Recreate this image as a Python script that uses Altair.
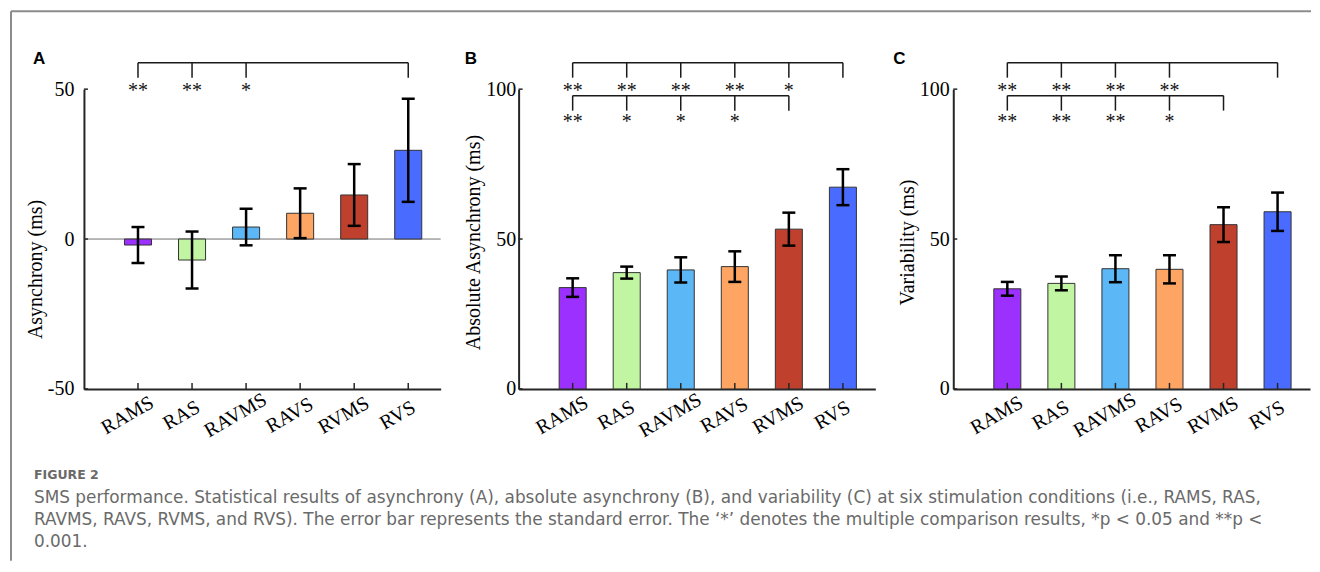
import altair as alt
import pandas as pd

# ---------------- data ----------------
conditions = ["RAMS", "RAS", "RAVMS", "RAVS", "RVMS", "RVS"]
bar_colors = ["#9B30FF", "#C1F5A2", "#5BB7F5", "#FFA563", "#BF402C", "#4A6BFF"]

asynchrony_mean = [-2.0, -7.0, 4.0, 8.6, 14.7, 29.6]
asynchrony_se = [6.0, 9.5, 6.1, 8.3, 10.3, 17.2]
abs_asynchrony_mean = [33.8, 38.8, 39.7, 40.8, 53.3, 67.3]
abs_asynchrony_se = [3.1, 2.0, 4.2, 5.1, 5.5, 6.0]
variability_mean = [33.4, 35.2, 40.1, 39.9, 54.8, 59.1]
variability_se = [2.3, 2.3, 4.5, 4.7, 5.8, 6.4]

# significance markers against a reference condition
sig_A_vs_RVS = ["**", "**", "*", "", "", ""]
sig_B_vs_RVS = ["**", "**", "**", "**", "*", ""]
sig_B_vs_RVMS = ["**", "*", "*", "*", "", ""]
sig_C_vs_RVS = ["**", "**", "**", "**", "", ""]
sig_C_vs_RVMS = ["**", "**", "**", "*", "", ""]

y_ticks_A = [-50, 0, 50]
y_ticks_B = [0, 50, 100]
y_ticks_C = [0, 50, 100]

caption_title = "FIGURE 2"
caption_lines = [
    "SMS performance. Statistical results of asynchrony (A), absolute asynchrony (B), and variability (C) at six stimulation conditions (i.e., RAMS, RAS,",
    "RAVMS, RAVS, RVMS, and RVS). The error bar represents the standard error. The \u2018*\u2019 denotes the multiple comparison results, *p < 0.05 and **p <",
    "0.001.",
]

# ---------------- layout / style constants ----------------
SERIF = "Liberation Serif"
CAPTION_FONT = "DejaVu Sans"
W, H = 357, 300
X_MAX = 6.6
PX_X = X_MAX / W          # data units per pixel (x)
PX_Y = 100.0 / H          # data units per pixel (y)
BAR_HALF = 0.25
CAP_HALF = 0.12
XTICK_LEN = 6 * PX_Y
YTICK_LEN = 4 * PX_X
LINE0 = 26.5 * PX_Y       # bracket row offsets above the top of the y range
DROP = 15 * PX_Y
ROW_STEP = 33 * PX_Y
STAR_STEP = 31 * PX_Y
STAR0 = 2.5 * PX_Y
AXIS_COLOR = "#262626"

label_expr = "[" + ",".join("'%s'" % c for c in conditions) + "][datum.value - 1]"


def build_panel(letter, means, ses, yticks, ytitle, sig_rows, title_y, letter_x,
                label_pad, with_zero=False, with_decor=False):
    ymin, ymax = yticks[0], yticks[-1]
    pos = list(range(1, len(conditions) + 1))
    df = pd.DataFrame({"cond": conditions, "pos": pos, "mean": means, "se": ses,
                       "color": bar_colors})
    df["x0"] = df["pos"] - BAR_HALF
    df["x1"] = df["pos"] + BAR_HALF
    df["lo"] = df["mean"] - df["se"]
    df["hi"] = df["mean"] + df["se"]
    df["c0"] = df["pos"] - CAP_HALF
    df["c1"] = df["pos"] + CAP_HALF
    df["base"] = 0.0
    df["t0"] = float(ymin)
    df["t1"] = ymin + XTICK_LEN

    xs = alt.Scale(domain=[0, X_MAX], nice=False, zero=False)
    ys = alt.Scale(domain=[ymin, ymax], nice=False, zero=False)

    x_axis = alt.Axis(values=pos, labelExpr=label_expr, title=None, grid=False,
                      ticks=False, tickSize=0, labelAngle=-30, labelAlign="center",
                      labelBaseline="middle", labelPadding=26, labelOffset=-11,
                      labelFont=SERIF, labelFontSize=20, labelColor="#000",
                      labelOverlap=False, labelFlush=False,
                      domainColor=AXIS_COLOR, domainWidth=2)
    y_axis = alt.Axis(values=yticks, labelExpr="datum.value + ''", title=ytitle,
                      titleFont=SERIF, titleFontSize=20, titleFontWeight="normal",
                      titleColor="#000", titlePadding=2, titleY=title_y,
                      labelFont=SERIF, labelFontSize=20, labelColor="#000",
                      labelPadding=label_pad, grid=False, ticks=False, tickSize=0,
                      domainColor=AXIS_COLOR, domainWidth=2)

    def X(f):
        return alt.X(f, type="quantitative", scale=xs, axis=x_axis)

    def Y(f):
        return alt.Y(f, type="quantitative", scale=ys, axis=y_axis)

    layers = []

    if with_zero:
        zdf = pd.DataFrame({"a": [0.0], "b": [X_MAX], "y": [0.0]})
        layers.append(alt.Chart(zdf).mark_rule(color="#707070", strokeWidth=1).encode(
            x=X("a"), x2="b", y=Y("y")))

    bars = alt.Chart(df).mark_bar(stroke="#333333", strokeWidth=1).encode(
        x=X("x0"), x2="x1", y=Y("mean"), y2="base",
        color=alt.Color("color:N", scale=None))
    layers.append(bars)

    # inward ticks on the x axis
    layers.append(alt.Chart(df).mark_rule(color=AXIS_COLOR, strokeWidth=1.5).encode(
        x=X("pos"), y=Y("t0"), y2="t1"))
    # inward ticks on the y axis
    ydf = pd.DataFrame({"v": yticks, "a": [0.0] * len(yticks), "b": [YTICK_LEN] * len(yticks)})
    layers.append(alt.Chart(ydf).mark_rule(color=AXIS_COLOR, strokeWidth=1.5).encode(
        x=X("a"), x2="b", y=Y("v")))

    # error bars
    layers.append(alt.Chart(df).mark_rule(color="#000", strokeWidth=2.5).encode(
        x=X("pos"), y=Y("lo"), y2="hi"))
    for f in ["lo", "hi"]:
        layers.append(alt.Chart(df).mark_rule(color="#000", strokeWidth=2.5).encode(
            x=X("c0"), x2="c1", y=Y(f)))

    # significance brackets
    hl, drops, stars = [], [], []
    for r, (ref_name, marks) in enumerate(sig_rows):
        ref = conditions.index(ref_name) + 1
        level = ymax + LINE0 - r * ROW_STEP
        starred = [i + 1 for i, m in enumerate(marks) if m]
        hl.append({"a": min(starred), "b": ref, "y": level})
        for p in starred + [ref]:
            drops.append({"x": p, "y": level, "y2": level - DROP})
        for i, m in enumerate(marks):
            if m:
                stars.append({"x": i + 1, "y": ymax + STAR0 - r * STAR_STEP, "s": m})
    layers.append(alt.Chart(pd.DataFrame(hl)).mark_rule(color="#1a1a1a", strokeWidth=1.5).encode(
        x=X("a"), x2="b", y=Y("y")))
    layers.append(alt.Chart(pd.DataFrame(drops)).mark_rule(color="#1a1a1a", strokeWidth=1.5).encode(
        x=X("x"), y=Y("y"), y2="y2"))
    layers.append(alt.Chart(pd.DataFrame(stars)).mark_text(
        font=SERIF, fontSize=20, align="center", baseline="alphabetic", dy=10, color="#111").encode(
        x=X("x"), y=Y("y"), text="s:N"))

    # panel letter
    ldf = pd.DataFrame({"x": [letter_x], "y": [ymax + LINE0 - 1 * PX_Y], "t": [letter]})
    layers.append(alt.Chart(ldf).mark_text(
        font="Liberation Sans", fontSize=17, fontWeight="bold", align="left",
        baseline="alphabetic", color="#000").encode(x=X("x"), y=Y("y"), text="t:N"))

    if with_decor:
        # page frame (top and left border lines)
        frame = alt.Data(values=[{"f": 1}])
        layers.append(alt.Chart(frame).mark_rule(color="#8c8c8c", strokeWidth=2).encode(
            x=alt.value(-73), y=alt.value(-78), y2=alt.value(472)))
        layers.append(alt.Chart(frame).mark_rule(color="#8c8c8c", strokeWidth=2).encode(
            x=alt.value(-73), x2=alt.value(1228), y=alt.value(-78)))
        # figure caption below the panels
        cap_x = -50 * PX_X
        cap_rows = [{"x": cap_x, "y": ymin - 86 * PX_Y, "t": caption_title, "k": "head"}]
        for i, line in enumerate(caption_lines):
            cap_rows.append({"x": cap_x, "y": ymin - (109 + 22 * i) * PX_Y, "t": line, "k": "body"})
        cdf = pd.DataFrame(cap_rows)
        layers.append(alt.Chart(cdf).transform_filter("datum.k == 'head'").mark_text(
            font=CAPTION_FONT, fontSize=12.5, fontWeight="bold", align="left", baseline="middle",
            color="#6a6a6a").encode(x=X("x"), y=Y("y"), text="t:N"))
        layers.append(alt.Chart(cdf).transform_filter("datum.k == 'body'").mark_text(
            font=CAPTION_FONT, fontSize=16.9, align="left", baseline="middle",
            color="#6a6a6a").encode(x=X("x"), y=Y("y"), text="t:N"))

    return alt.layer(*layers).properties(width=W, height=H)


panel_A = build_panel("A", asynchrony_mean, asynchrony_se, y_ticks_A, "Asynchrony (ms)",
                      [("RVS", sig_A_vs_RVS)], 180, -51 * PX_X, 10,
                      with_zero=True, with_decor=True)
panel_B = build_panel("B", abs_asynchrony_mean, abs_asynchrony_se, y_ticks_B,
                      "Absolute Asynchrony (ms)",
                      [("RVS", sig_B_vs_RVS), ("RVMS", sig_B_vs_RVMS)], 153, -54 * PX_X, 3)
panel_C = build_panel("C", variability_mean, variability_se, y_ticks_C, "Variability (ms)",
                      [("RVS", sig_C_vs_RVS), ("RVMS", sig_C_vs_RVMS)], 153, -60 * PX_X, 4)

chart = alt.hconcat(panel_A, panel_B, panel_C, spacing=78, bounds="flush").properties(
    padding={"left": 2, "top": 2, "right": 0, "bottom": 0},
).configure_view(stroke=None)

chart.save("out.html", embed_options={"renderer": "svg", "actions": False})
